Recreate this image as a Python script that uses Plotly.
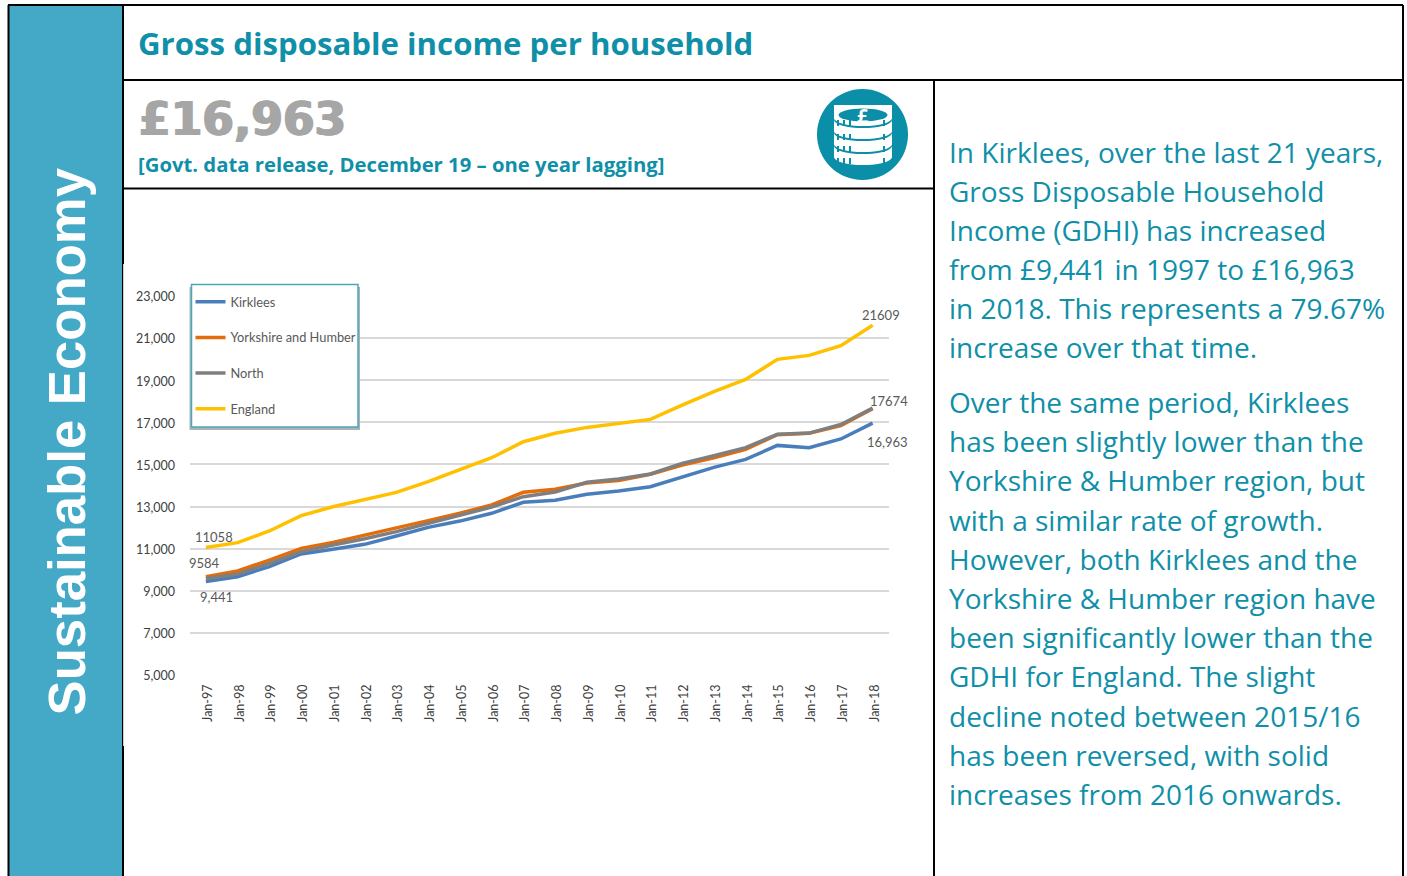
import plotly.graph_objects as go

W, H = 1407, 876
years = ["Jan-%02d" % (y % 100) for y in range(1997, 2019)]
kirklees = [9441, 9670, 10145, 10750, 10970, 11205, 11600, 12010, 12310, 12680, 13200,
            13295, 13580, 13740, 13945, 14420, 14860, 15240, 15905, 15795, 16210, 16963]
yorkshire = [9670, 9940, 10460, 11015, 11300, 11630, 11965, 12330, 12680, 13075, 13675,
             13820, 14120, 14240, 14530, 14975, 15320, 15720, 16410, 16480, 16840, 17650]
north = [9584, 9800, 10300, 10860, 11175, 11470, 11810, 12200, 12570, 12980, 13470,
         13690, 14150, 14310, 14545, 15050, 15420, 15800, 16430, 16490, 16900, 17674]
england = [11058, 11285, 11840, 12570, 12990, 13340, 13675, 14180, 14735, 15320, 16080,
           16480, 16760, 16940, 17140, 17820, 18455, 19040, 19990, 20180, 20640, 21609]
series = [("Kirklees", kirklees, "#4A7EBB"), ("Yorkshire and Humber", yorkshire, "#E46C0A"),
          ("North", north, "#7F7F7F"), ("England", england, "#FFC000")]
y_ticks = [5000, 7000, 9000, 11000, 13000, 15000, 17000, 19000, 21000, 23000]

TEAL = "#0F8FA8"
body_lines = [
    ("In Kirklees, over the last 21 years,", 152), ("Gross Disposable Household", 191),
    ("Income (GDHI) has increased", 230), ("from £9,441 in 1997 to £16,963", 269),
    ("in 2018. This represents a 79.67%", 308), ("increase over that time.", 347),
    ("Over the same period, Kirklees", 402), ("has been slightly lower than the", 441),
    ("Yorkshire & Humber region, but", 480), ("with a similar rate of growth.", 520),
    ("However, both Kirklees and the", 559), ("Yorkshire & Humber region have", 598),
    ("been significantly lower than the", 637), ("GDHI for England. The slight", 676),
    ("decline noted between 2015/16", 716), ("has been reversed, with solid", 755),
    ("increases from 2016 onwards.", 794),
]

def px(x): return x / W
def py(y): return 1 - y / H

fig = go.Figure()
for name, vals, col in series:
    fig.add_trace(go.Scatter(x=years, y=vals, name=name, legendgroup=name, mode="lines",
                             line=dict(color=col, width=3.5), hoverinfo="skip"))

def rect(x0, y0, x1, y1, fill, layer="below", lc=None, lw=0):
    return dict(type="rect", xref="paper", yref="paper", x0=px(x0), x1=px(x1), y0=py(y0), y1=py(y1),
                fillcolor=fill, line=dict(width=lw, color=lc or fill), layer=layer)

def line(x0, y0, x1, y1, w=2, c="#000000", layer="below"):
    return dict(type="line", xref="paper", yref="paper", x0=px(x0), x1=px(x1), y0=py(y0), y1=py(y1),
                line=dict(color=c, width=w), layer=layer)

def ellipse(cx, cy, rx, ry, fill):
    return dict(type="circle", xref="paper", yref="paper", x0=px(cx - rx), x1=px(cx + rx),
                y0=py(cy + ry), y1=py(cy - ry), fillcolor=fill, line=dict(width=0), layer="above")

shapes = [
    rect(9, 6, 123, H, "#43A9C6"),
    line(8, 5, 1403, 5), line(8.5, 5, 8.5, H), line(123, 5, 123, H),
    line(1403, 5, 1403, H), line(123, 80, 1403, 80), line(934, 80, 934, H),
    line(123, 188.5, 934, 188.5),
    # chart picture overlapping the rule on its left
    rect(123.2, 264, 126, 746, "white", "above"),
    # legend shadow and frame
    rect(189.5, 287, 360, 430, "#A9B4B6", "above"),
    rect(191.5, 284.5, 358, 427, "white", "above", "#4BA6BC", 1.5),
]
# coin-stack icon
IC = "#0B8FA8"
shapes.append(ellipse(862.5, 134.5, 45.5, 45.5, IC))
for base in (159, 146, 133, 120):
    shapes.append(ellipse(863, base, 29, 8, IC))
    shapes.append(ellipse(863, base - 2, 29, 8, "white"))
    shapes.append(rect(834, base - 15, 892, base - 2, "white", "above"))
shapes.append(ellipse(863, 115, 29, 9, "white"))
shapes.append(ellipse(863, 115, 24.5, 6.5, IC))
for x0 in (838, 844, 850, 884):
    for cy in (123, 137, 149, 161):
        shapes.append(line(x0, cy - 3, x0, cy + 3, 2, IC, "above"))

ann = [
    dict(text="<b>Gross disposable income per household</b>", x=px(137), y=py(43), xanchor="left", yanchor="middle",
         font=dict(family="Open Sans", size=31.2, color=TEAL)),
    dict(text="<b>£16,963</b>", x=px(138), y=py(119), xanchor="left", yanchor="middle",
         font=dict(family="DejaVu Sans", size=45.5, color="#A6A6A6",
                   shadow="1px 0 0 #A6A6A6, -1px 0 0 #A6A6A6")),
    dict(text="<b>[Govt. data release, December 19 – one year lagging]</b>", x=px(137), y=py(164), xanchor="left",
         yanchor="middle", font=dict(family="Open Sans", size=20.3, color=TEAL)),
    dict(text="<b>Sustainable Economy</b>", x=px(66), y=py(441.5), xanchor="center", yanchor="middle", textangle=-90,
         font=dict(family="Liberation Sans", size=52.7, color="white")),
    dict(text="<b>£</b>", x=px(863), y=py(115), xanchor="center", yanchor="middle",
         font=dict(family="Open Sans", size=20, color="white")),
]
for t, y in body_lines:
    ann.append(dict(text=t, x=px(948), y=py(y), xanchor="left", yanchor="middle",
                    font=dict(family="Open Sans", size=28, color=TEAL)))
for a in ann:
    a.update(xref="paper", yref="paper", showarrow=False, borderpad=0)

labels = [("Jan-97", england[0], "11058", 8, 10), ("Jan-97", north[0], "9584", -1, 15),
          ("Jan-97", kirklees[0], "9,441", 11, -16), ("Jan-18", england[-1], "21609", 8, 10),
          ("Jan-18", north[-1], "17674", 16, 7), ("Jan-18", kirklees[-1], "16,963", 15, -19)]
for xv, yv, t, dx, dy in labels:
    ann.append(dict(text=t, x=xv, y=yv, xref="x", yref="y", xshift=dx, yshift=dy, showarrow=False,
                    font=dict(family="Lato", size=13, color="#595959")))

fig.update_layout(
    width=W, height=H, margin=dict(l=0, r=0, t=0, b=0), paper_bgcolor="white", plot_bgcolor="white",
    shapes=shapes, annotations=ann, showlegend=True,
    legend=dict(x=px(190.5), y=py(287), xanchor="left", yanchor="top", bgcolor="rgba(0,0,0,0)", borderwidth=0,
                tracegroupgap=16, traceorder="grouped", itemclick=False, itemdoubleclick=False,
                font=dict(family="Lato", size=12.8, color="#595959"), itemwidth=30),
    xaxis=dict(domain=[px(190), px(888.5)], type="category", categoryorder="array", categoryarray=years,
               range=[-0.5, 21.5], tickangle=-90, showgrid=False, ticks="", showline=False, zeroline=False,
               tickfont=dict(family="Lato", size=12.5, color="#404040"), automargin=False, tickvals=years,
               ticklabelstandoff=6, ticklabelshift=2),
    yaxis=dict(domain=[py(675), py(296)], range=[5000, 23000], tickvals=y_ticks, tickformat=",", showgrid=True,
               gridcolor="#D9D9D9", gridwidth=1.5, zeroline=False, showline=False, ticks="",
               tickfont=dict(family="Lato", size=12.5, color="#404040"), automargin=False, ticklabelstandoff=14,
               ticklabelshift=1),
)
fig.write_html("out.html", config=dict(displayModeBar=False), post_script="document.body.style.margin='0';")
